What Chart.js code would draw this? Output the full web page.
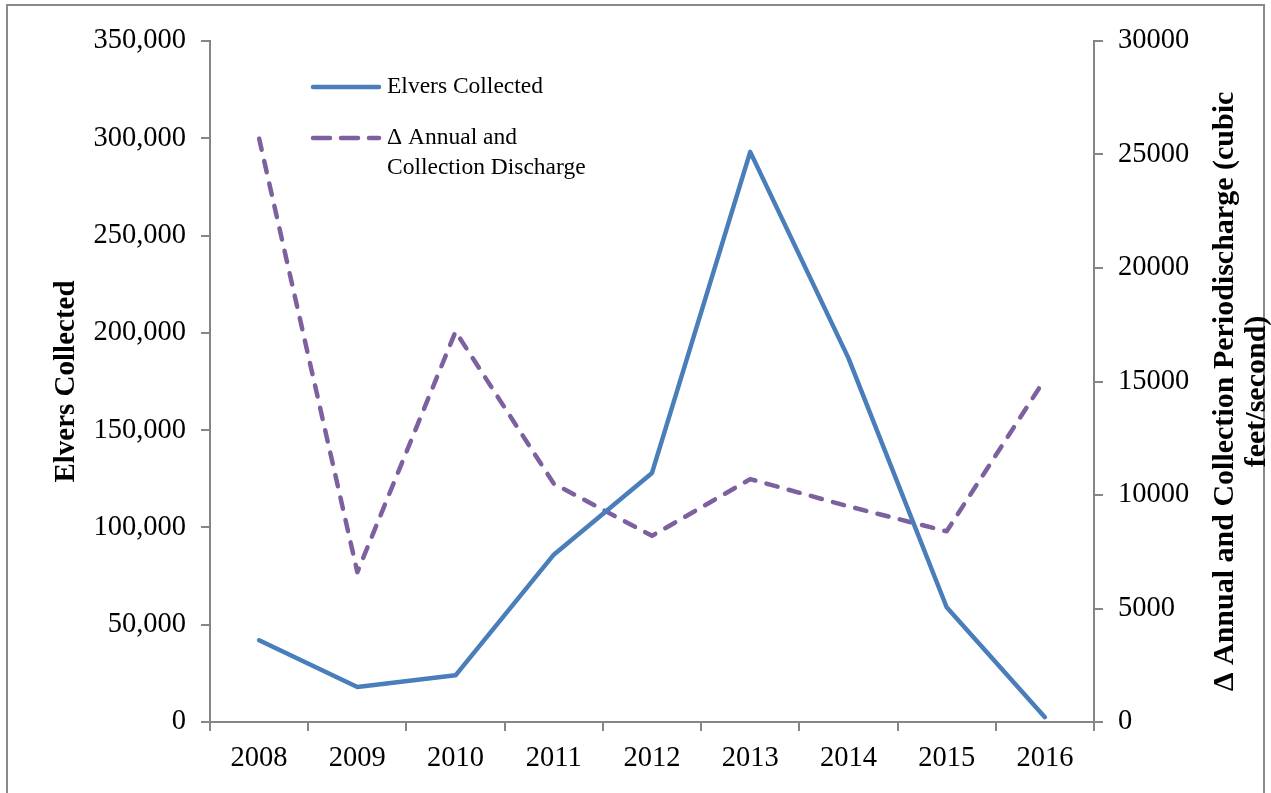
<!DOCTYPE html>
<html>
<head>
<meta charset="utf-8">
<title>Elvers collected and discharge</title>
<script src="https://cdn.jsdelivr.net/npm/chart.js@4.4.1/dist/chart.umd.min.js"></script>
<style>
  html, body { margin: 0; padding: 0; background: #fff; }
  #wrap { width: 1271px; height: 793px; }
</style>
</head>
<body>
<div id="wrap"><canvas id="elver-chart" width="1271" height="793"></canvas></div>
<script>
// survey years
const years = ['2008', '2009', '2010', '2011', '2012', '2013', '2014', '2015', '2016'];
// glass eels counted each season
const elversCollected = [42000, 18000, 24000, 86000, 128000, 293000, 187000, 59000, 2500];
// difference between annual and collection-period discharge (cfs)
const dischargeDelta = [25700, 6600, 17200, 10500, 8200, 10700, 9500, 8400, 15100];

const elversTicks = [0, 50000, 100000, 150000, 200000, 250000, 300000, 350000];
const dischargeTicks = [0, 5000, 10000, 15000, 20000, 25000, 30000];

const serif = '"Liberation Serif", "Times New Roman", serif';
const axisGray = '#868686';
const blue = '#4A7EBB';
const purple = '#7D60A0';

// gray frame around the whole figure
const frame = {
  id: 'frame',
  beforeDraw(chart) {
    const ctx = chart.ctx;
    ctx.save();
    ctx.fillStyle = '#fff';
    ctx.fillRect(0, 0, chart.width, chart.height);
    ctx.strokeStyle = '#8a8a8a';
    ctx.lineWidth = 2;
    ctx.strokeRect(7, 5, chart.width - 14, chart.height + 20);
    ctx.restore();
  }
};

// legend inside the plot, second label wraps onto two lines
const inlineLegend = {
  id: 'inlineLegend',
  afterDraw(chart) {
    const ctx = chart.ctx;
    const x0 = chart.chartArea.left + 101;
    const x1 = x0 + 70;
    const rows = [
      { ds: chart.data.datasets[0], y: 87, lines: ['Elvers Collected'], dash: [] },
      { ds: chart.data.datasets[1], y: 138, lines: ['\u0394 Annual and', 'Collection Discharge'], dash: [17, 11] }
    ];
    ctx.save();
    ctx.font = '23.5px ' + serif;
    ctx.fillStyle = '#000';
    ctx.textBaseline = 'middle';
    rows.forEach(r => {
      ctx.beginPath();
      ctx.setLineDash(r.dash);
      ctx.lineCap = 'round';
      ctx.lineWidth = r.ds.borderWidth;
      ctx.strokeStyle = r.ds.borderColor;
      ctx.moveTo(x0 + 2, r.y);
      ctx.lineTo(x1 - 2, r.y);
      ctx.stroke();
      r.lines.forEach((t, i) => ctx.fillText(t, x1 + 6, r.y + i * 30));
    });
    ctx.restore();
  }
};

// right axis title reads bottom-to-top like the left one
const rightTitle = {
  id: 'rightTitle',
  afterDraw(chart) {
    const ctx = chart.ctx;
    const cy = (chart.chartArea.top + chart.chartArea.bottom) / 2 + 10;
    const lines = ['\u0394 Annual and Collection Periodischarge (cubic', 'feet/second)'];
    ctx.save();
    ctx.font = 'bold 30px ' + serif;
    ctx.fillStyle = '#000';
    ctx.textAlign = 'center';
    ctx.textBaseline = 'middle';
    lines.forEach((t, i) => {
      ctx.save();
      ctx.translate(1225 + i * 32, cy);
      ctx.rotate(-Math.PI / 2);
      ctx.fillText(t, 0, 0);
      ctx.restore();
    });
    ctx.restore();
  }
};

const tickFont = { family: serif, size: 28.5 };

new Chart(document.getElementById('elver-chart'), {
  type: 'line',
  data: {
    labels: years,
    datasets: [
      {
        label: 'Elvers Collected',
        data: elversCollected,
        yAxisID: 'y',
        borderColor: blue,
        borderWidth: 4.5,
        borderCapStyle: 'round',
        borderJoinStyle: 'round',
        pointRadius: 0,
        fill: false,
        tension: 0
      },
      {
        label: '\u0394 Annual and Collection Discharge',
        data: dischargeDelta,
        yAxisID: 'y1',
        borderColor: purple,
        borderWidth: 4.5,
        borderDash: [11.5, 11.5],
        borderCapStyle: 'round',
        borderJoinStyle: 'round',
        pointRadius: 0,
        fill: false,
        tension: 0
      }
    ]
  },
  options: {
    responsive: false,
    animation: false,
    layout: { padding: { top: 41, left: 0, right: 0, bottom: 0 } },
    plugins: {
      legend: { display: false },
      tooltip: { enabled: false }
    },
    scales: {
      x: {
        offset: true,
        border: { display: true, color: axisGray, width: 2 },
        grid: {
          display: true,
          offset: true,
          drawOnChartArea: false,
          drawTicks: true,
          tickLength: 9,
          color: axisGray,
          lineWidth: 2
        },
        ticks: { color: '#000', font: tickFont, padding: 10, maxRotation: 0 },
        afterFit: s => { s.height = 71; }
      },
      y: {
        position: 'left',
        min: elversTicks[0],
        max: elversTicks[elversTicks.length - 1],
        afterBuildTicks: s => { s.ticks = elversTicks.map(v => ({ value: v })); },
        border: { display: true, color: axisGray, width: 2 },
        grid: {
          display: true,
          drawOnChartArea: false,
          drawTicks: true,
          tickLength: 9,
          color: axisGray,
          lineWidth: 2
        },
        ticks: {
          color: '#000',
          font: tickFont,
          padding: 15,
          callback: v => v.toLocaleString('en-US')
        },
        title: {
          display: true,
          text: 'Elvers Collected',
          color: '#000',
          font: { family: serif, size: 29, weight: 'bold' },
          padding: { top: 49, bottom: 0 }
        },
        afterFit: s => { s.width = 210; }
      },
      y1: {
        position: 'right',
        min: dischargeTicks[0],
        max: dischargeTicks[dischargeTicks.length - 1],
        afterBuildTicks: s => { s.ticks = dischargeTicks.map(v => ({ value: v })); },
        border: { display: true, color: axisGray, width: 2 },
        grid: {
          display: true,
          drawOnChartArea: false,
          drawTicks: true,
          tickLength: 9,
          color: axisGray,
          lineWidth: 2
        },
        ticks: {
          color: '#000',
          font: tickFont,
          padding: 15,
          callback: v => String(v)
        },
        afterFit: s => { s.width = 177; }
      }
    }
  },
  plugins: [frame, inlineLegend, rightTitle]
});
</script>
</body>
</html>
